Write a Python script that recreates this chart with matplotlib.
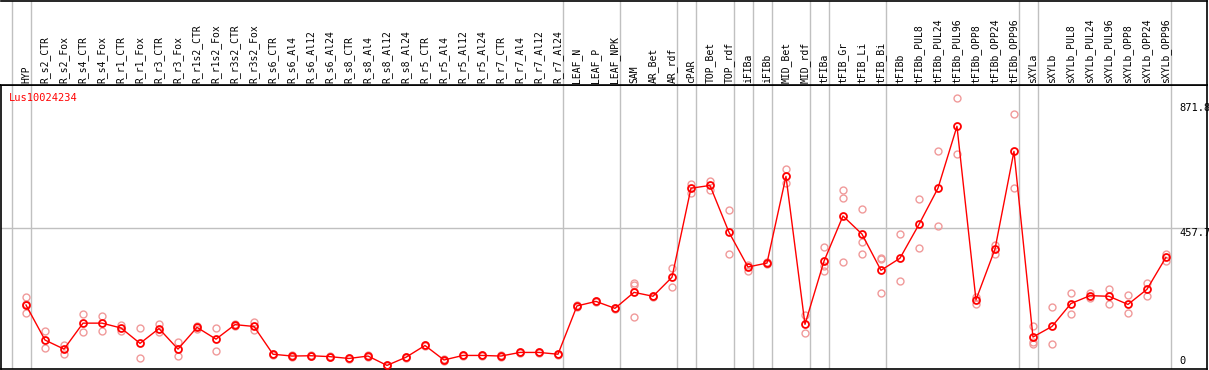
import numpy as np
import matplotlib
matplotlib.use("Agg")
import matplotlib.pyplot as plt
import matplotlib.transforms as mtransforms

gene = "Lus10024234"

samples = ["HYP", "R_s2_CTR", "R_s2_Fox", "R_s4_CTR", "R_s4_Fox", "R_r1_CTR", "R_r1_Fox",
           "R_r3_CTR", "R_r3_Fox", "R_r1s2_CTR", "R_r1s2_Fox", "R_r3s2_CTR", "R_r3s2_Fox",
           "R_s6_CTR", "R_s6_Al4", "R_s6_Al12", "R_s6_Al24", "R_s8_CTR", "R_s8_Al4",
           "R_s8_Al12", "R_s8_Al24", "R_r5_CTR", "R_r5_Al4", "R_r5_Al12", "R_r5_Al24",
           "R_r7_CTR", "R_r7_Al4", "R_r7_Al12", "R_r7_Al24", "LEAF_N", "LEAF_P", "LEAF_NPK",
           "SAM", "AR_Bet", "AR_rdf", "cPAR", "TOP_Bet", "TOP_rdf", "iFIBa", "iFIBb",
           "MID_Bet", "MID_rdf", "tFIBa", "tFIB_Gr", "tFIB_Li", "tFIB_Bi", "tFIBb",
           "tFIBb_PUL8", "tFIBb_PUL24", "tFIBb_PUL96", "tFIBb_OPP8", "tFIBb_OPP24",
           "tFIBb_OPP96", "sXYLa", "sXYLb", "sXYLb_PUL8", "sXYLb_PUL24", "sXYLb_PUL96",
           "sXYLb_OPP8", "sXYLb_OPP24", "sXYLb_OPP96"]

means = [202, 86, 56, 142, 142, 126, 75, 124, 56, 128, 89, 137, 131,
         39, 33, 34, 31, 25, 33, 2, 29, 68, 20, 35, 35, 33, 45, 45, 39,
         199, 214, 191, 244, 231, 294, 589, 598, 443, 328, 341, 628, 138,
         347, 497, 437, 317, 357, 469, 589, 794, 219, 387, 711,
         96, 131, 207, 233, 231, 204, 254, 360]

reps = [[227, 205, 174], [116, 59], [70, 40], [171, 114], [164, 115], [135, 115],
        [126, 25], [139, 112], [78, 33], [131, 124], [126, 49], [139, 134], [147, 120],
        [41, 37], [35, 31], [36, 32], [33, 29], [27, 23], [35, 31], [4, 0], [31, 27],
        [70, 66], [22, 18], [37, 33], [37, 33], [35, 31], [47, 43], [47, 43], [41, 37],
        [201, 197], [216, 212], [193, 189], [274, 267, 161], [233, 229], [325, 261],
        [604, 574], [614, 583], [516, 371], [334, 315], [343, 339], [651, 607],
        [168, 108], [393, 330, 315], [583, 555, 346], [519, 412, 370], [357, 354, 241],
        [437, 281], [552, 390], [711, 463], [887, 701], [230, 207], [401, 370],
        [835, 589], [132, 78, 73], [194, 72], [241, 172], [241, 225], [254, 207],
        [234, 174], [274, 232], [371, 349]]

# group separators sit just right of these samples
seps = [-1, 0, 28, 31, 34, 35, 37, 38, 39, 41, 42, 45, 52, 53, 60]

ymax = 871.8
ymid = 457.7

W, H = 1209, 370
fig = plt.figure(figsize=(W / 100, H / 100), dpi=100)
font = "DejaVu Sans Mono"

ax = fig.add_axes([1 / W, 1 / H, 1206 / W, 284 / H])
axh = fig.add_axes([1 / W, 285 / H, 1206 / W, 84 / H], sharex=ax)

x = np.arange(len(samples))
ax.set_xlim(-1.316, 62.16)
ax.set_ylim(-9.9, 930.8)
axh.set_ylim(0, 1)

for a in (ax, axh):
    a.set_xticks([])
    a.set_yticks([])
    for s in a.spines.values():
        s.set_color("black")
        s.set_linewidth(1.2)
    for sp in seps:
        a.axvline(sp + 0.27, color="#c0c0c0", lw=1, zorder=0)
axh.spines["left"].set_visible(False)

ax.axhline(ymid, color="#c0c0c0", lw=1, zorder=0)

# replicates
for i, r in enumerate(reps):
    ax.plot([i] * len(r), r, "o", ms=5, mfc="none", mec="#f09a9a", mew=1, zorder=2)

ax.plot(x, means, "-", color="red", lw=1, zorder=3)
ax.plot(x, means, "o", ms=5, mfc="none", mec="red", mew=1.3, zorder=4)

ht = mtransforms.blended_transform_factory(axh.transData, axh.transAxes)
for i, s in enumerate(samples):
    axh.text(i, 0.025, s, transform=ht, rotation=90, ha="center", va="bottom",
             fontsize=7, family=font, color="black")

ax.text(0.0066, 0.972, gene, transform=ax.transAxes, ha="left", va="top",
        fontsize=7.5, family=font, color="red")

rt = mtransforms.blended_transform_factory(ax.transAxes, ax.transData)
ax.text(0.977, ymax, f"{ymax}", transform=rt, ha="left", va="top", fontsize=7.5, family=font)
ax.text(0.977, ymid, f"{ymid}", transform=rt, ha="left", va="top", fontsize=7.5, family=font)
ax.text(0.977, 0, "0", transform=rt, ha="left", va="bottom", fontsize=7.5, family=font)

fig.savefig("out.png", dpi=100)
